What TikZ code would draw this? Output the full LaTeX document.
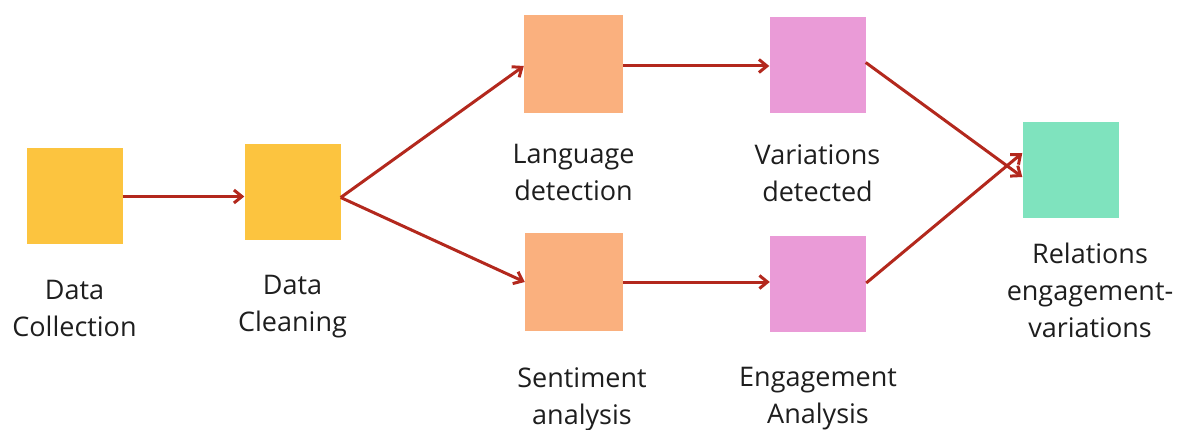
\documentclass[tikz,border=0pt]{standalone}
\usepackage{fontspec}
\setmainfont{Open Sans}
\usetikzlibrary{arrows.meta}
\definecolor{cyellow}{HTML}{FCC43F}
\definecolor{corange}{HTML}{FAB07E}
\definecolor{cpink}{HTML}{EA9BD7}
\definecolor{cgreen}{HTML}{7FE3BE}
\definecolor{carrow}{HTML}{B3281D}
\definecolor{ctext}{HTML}{1E1E1E}
\begin{document}
\begin{tikzpicture}[x=1pt,y=-1pt,
  box/.style={draw=none,minimum width=96pt,minimum height=96pt,inner sep=0pt},
  lbl/.style={align=center,anchor=north,inner sep=0pt,text=ctext,font=\fontsize{27}{37}\selectfont},
  conn/.style={draw=carrow,line width=3pt,-{Straight Barb[length=8pt,width=13pt,line width=3pt]}}]
\useasboundingbox (0,0) rectangle (1185,430);
\node[box,fill=cyellow] (dc) at (74.5,196.5) {};
\node[box,fill=cyellow] (cl) at (292.5,192.5) {};
\node[box,fill=corange,minimum width=99pt,minimum height=98pt] (ld) at (573.5,64) {};
\node[box,fill=cpink] (vd) at (817.5,65.5) {};
\node[box,fill=corange,minimum width=98pt,minimum height=98pt] (sa) at (574,282) {};
\node[box,fill=cpink] (ea) at (818,284) {};
\node[box,fill=cgreen] (re) at (1070.5,170) {};

\node[lbl] (tdc) at (74.5,280) {Data\\Collection};
\node[lbl] (tcl) at (292.5,275) {Data\\Cleaning};
\node[lbl] (tld) at (573.5,144) {Language\\detection};
\node[lbl] (tvd) at (817.5,144) {Variations\\detected};
\node[lbl] (tsa) at (582,367) {Sentiment\\analysis};
\node[lbl] (tea) at (818,367) {Engagement\\Analysis};
\node[lbl] (tre) at (1090,243) {Relations\\engagement-\\variations};

\coordinate (clo) at ([yshift=-5pt]cl.east);
\coordinate (rea) at ([yshift=-7pt]re.west);
\coordinate (reb) at ([yshift=17pt]re.west);
\draw[conn] (dc.east) -- (dc.east -| cl.west);
\draw[conn] (clo) -- ([yshift=-2pt]ld.west);
\draw[conn] (clo) -- (sa.west);
\draw[conn] ([yshift=-2pt]ld.east) -- ([yshift=-2pt]ld.east -| vd.west);
\draw[conn] (sa.east) -- (sa.east -| ea.west);
\draw[conn] ([yshift=3pt]vd.east) -- (rea);
\draw[conn] ([yshift=1pt]ea.east) -- (reb);
\end{tikzpicture}
\end{document}
